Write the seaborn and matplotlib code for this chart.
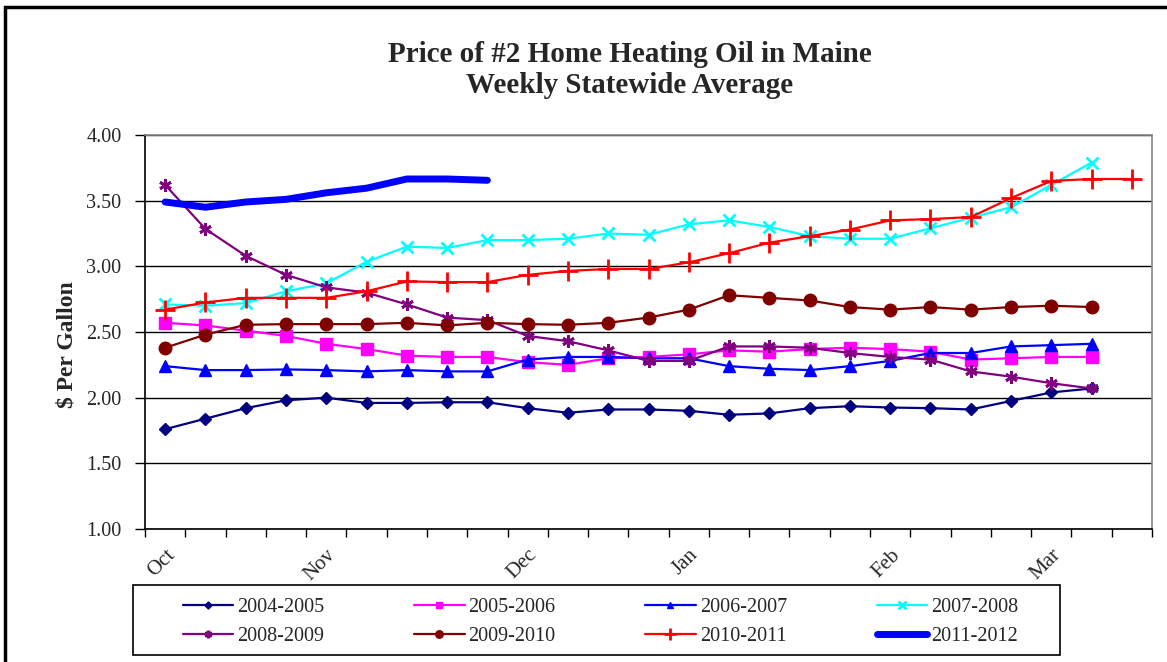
import seaborn as sns
import matplotlib.pyplot as plt
import matplotlib.patches as mpatches
import pandas as pd

# weekly statewide averages, $ per gallon (week 0 = first week of October)
seasons = ['2004-2005', '2005-2006', '2006-2007', '2007-2008',
           '2008-2009', '2009-2010', '2010-2011', '2011-2012']

p_2004 = [1.76, 1.84, 1.92, 1.98, 2.00, 1.96, 1.96, 1.965, 1.965, 1.92, 1.885, 1.91,
          1.91, 1.90, 1.87, 1.88, 1.92, 1.935, 1.925, 1.92, 1.91, 1.975, 2.04, 2.07]
p_2005 = [2.57, 2.55, 2.51, 2.47, 2.41, 2.37, 2.32, 2.31, 2.31, 2.27, 2.25, 2.30,
          2.31, 2.33, 2.36, 2.35, 2.37, 2.38, 2.37, 2.35, 2.29, 2.30, 2.31, 2.31]
p_2006 = [2.24, 2.21, 2.21, 2.215, 2.21, 2.20, 2.21, 2.20, 2.20, 2.29, 2.31, 2.31,
          2.30, 2.30, 2.24, 2.22, 2.21, 2.24, 2.28, 2.34, 2.34, 2.39, 2.40, 2.41]
p_2007 = [2.71, 2.70, 2.72, 2.81, 2.87, 3.035, 3.15, 3.14, 3.20, 3.20, 3.21, 3.25,
          3.24, 3.32, 3.35, 3.30, 3.23, 3.21, 3.21, 3.29, 3.37, 3.45, 3.62, 3.79]
p_2008 = [3.62, 3.285, 3.08, 2.935, 2.84, 2.80, 2.71, 2.61, 2.59, 2.47, 2.43, 2.36,
          2.28, 2.28, 2.39, 2.39, 2.38, 2.34, 2.31, 2.29, 2.20, 2.16, 2.11, 2.07]
p_2009 = [2.38, 2.48, 2.555, 2.56, 2.56, 2.56, 2.57, 2.55, 2.57, 2.56, 2.555, 2.57,
          2.61, 2.67, 2.78, 2.76, 2.74, 2.69, 2.67, 2.69, 2.67, 2.69, 2.70, 2.69]
p_2010 = [2.67, 2.725, 2.76, 2.76, 2.76, 2.81, 2.885, 2.88, 2.88, 2.935, 2.965, 2.98,
          2.98, 3.03, 3.10, 3.18, 3.23, 3.28, 3.35, 3.36, 3.375, 3.52, 3.65, 3.665, 3.665]
p_2011 = [3.49, 3.45, 3.49, 3.51, 3.56, 3.595, 3.665, 3.665, 3.655]

prices = [p_2004, p_2005, p_2006, p_2007, p_2008, p_2009, p_2010, p_2011]

month_labels = ['Oct', 'Nov', 'Dec', 'Jan', 'Feb', 'Mar']
month_weeks = [0, 4, 9, 13, 18, 22]

colors = ['#000080', '#FF00FF', '#0000FF', '#00FFFF',
          '#800080', '#800000', '#FF0000', '#0000FF']
markers = ['D', 's', '^', 'x', (6, 2, 0), 'o', '+', None]
msizes = [6, 8, 8, 9, 9, 9, 15, 0]
widths = [1.6, 1.6, 1.6, 1.6, 1.6, 1.6, 1.6, 5]

rows = []
for s, vals in zip(seasons, prices):
    for w, v in enumerate(vals):
        rows.append({'week': w, 'price': v, 'season': s})
df = pd.DataFrame(rows)

sns.set_theme(style='white')
plt.rcParams['font.family'] = ['Liberation Serif', 'DejaVu Serif']

fig = plt.figure(figsize=(11.67, 6.62), dpi=100)
ax = fig.add_axes([145 / 1167, 1 - 529 / 662, (1152 - 145) / 1167, (529 - 135) / 662])

for i, s in enumerate(seasons):
    sub = df[df['season'] == s]
    mk = markers[i]
    mew = 2 if mk in ('x', '+', (6, 2, 0)) else 1
    sns.lineplot(data=sub, x='week', y='price', ax=ax, color=colors[i],
                 lw=widths[i], marker=mk, markersize=msizes[i],
                 markeredgecolor=colors[i], markeredgewidth=mew,
                 label=s, zorder=3 + i, solid_capstyle='round')

ax.set_xlim(-0.5, 24.5)
ax.set_ylim(1.0, 4.0)
yt = [1.0, 1.5, 2.0, 2.5, 3.0, 3.5, 4.0]
ax.set_yticks(yt)
ax.set_yticklabels(['%.2f' % v for v in yt], fontsize=14.5)
ax.yaxis.grid(True, color='black', lw=1)
ax.set_axisbelow(True)

ax.set_xticks(month_weeks)
ax.set_xticklabels(month_labels, rotation=45, ha='right', rotation_mode='anchor',
                   fontsize=15)
ax.set_xticks([b - 0.5 for b in range(26)], minor=True)
ax.tick_params(axis='x', which='major', length=0, pad=12)
ax.tick_params(axis='x', which='minor', length=6, width=1, color='black', direction='out', bottom=True)
ax.tick_params(axis='y', length=7, width=1, color='black', direction='out', left=True, pad=10)

ax.set_xlabel('')
ax.set_ylabel('')
ax.spines['left'].set_color('black')
ax.spines['bottom'].set_color('black')
ax.spines['top'].set_color('#888888')
ax.spines['right'].set_color('#888888')
for sp in ax.spines.values():
    sp.set_linewidth(1.2)

ax.get_legend().remove()
handles, labels = ax.get_legend_handles_labels()
# legend fills row by row in the original
order = [0, 4, 1, 5, 2, 6, 3, 7]
fig.legend([handles[k] for k in order], [labels[k] for k in order], ncol=4,
           loc='upper left', frameon=False,
           bbox_to_anchor=(173 / 1167, 1 - 588 / 662), borderpad=0,
           fontsize=14.5, handlelength=2.5, handletextpad=0.2,
           columnspacing=4.45, labelspacing=0.5, markerscale=0.6)
fig.patches.append(mpatches.Rectangle((133 / 1167, 1 - 655 / 662), (1060 - 133) / 1167,
                                      70 / 662, transform=fig.transFigure, fill=False,
                                      edgecolor='black', lw=1.2))

fig.text(630 / 1167, 1 - 70 / 662,
         'Price of #2 Home Heating Oil in Maine\nWeekly Statewide Average',
         ha='center', va='center', fontsize=21, fontweight='bold', linespacing=1.2)
fig.text(67 / 1167, 1 - 345 / 662, '$ Per Gallon', rotation=90, ha='center',
         va='center', fontsize=17, fontweight='bold')

fig.patches.append(mpatches.Rectangle((5 / 1167, -0.1), 1.2, 1.1 - 7 / 662,
                                      transform=fig.transFigure, fill=False,
                                      edgecolor='black', lw=2.5))

fig.savefig('out.png', dpi=100)
